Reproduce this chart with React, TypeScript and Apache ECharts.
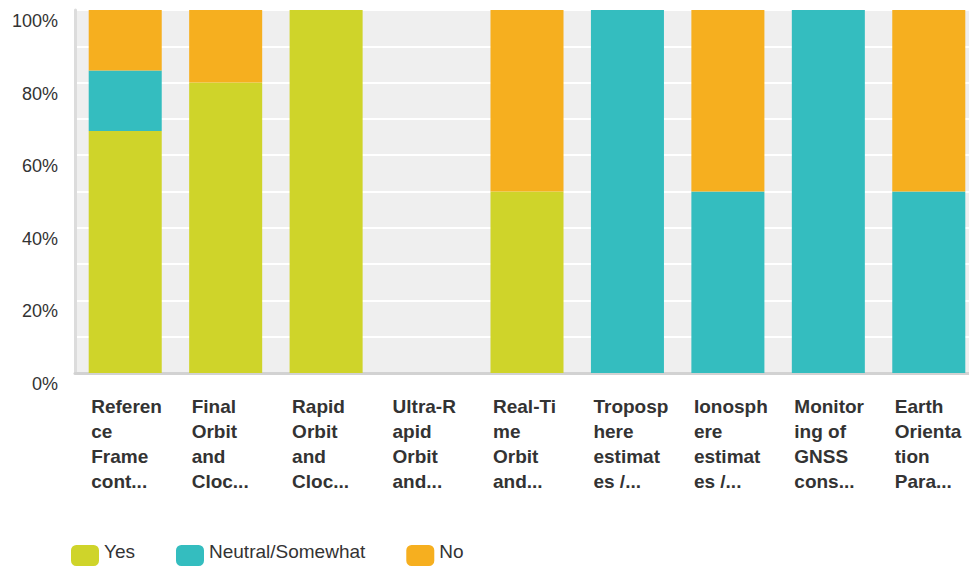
import React, { useEffect, useRef } from "react";
import * as echarts from "echarts";

const categories = [
  "Referen\nce\nFrame\ncont...",
  "Final\nOrbit\nand\nCloc...",
  "Rapid\nOrbit\nand\nCloc...",
  "Ultra-R\napid\nOrbit\nand...",
  "Real-Ti\nme\nOrbit\nand...",
  "Troposp\nhere\nestimat\nes /...",
  "Ionosph\nere\nestimat\nes /...",
  "Monitor\ning of\nGNSS\ncons...",
  "Earth\nOrienta\ntion\nPara...",
];
const yesValues = [66.67, 80, 100, 0, 50, 0, 0, 0, 0];
const neutralValues = [16.67, 0, 0, 0, 0, 100, 50, 100, 50];
const noValues = [16.66, 20, 0, 0, 50, 0, 50, 0, 50];
const seriesNames = ["Yes", "Neutral/Somewhat", "No"];
const colors = ["#cfd42a", "#34bdbf", "#f6af1f"];

export default function App() {
  const ref = useRef<HTMLDivElement>(null);
  useEffect(() => {
    document.body.style.margin = "0";
    document.body.style.overflow = "hidden";
    const chart = echarts.init(ref.current!, null, { renderer: "svg" });
    const data = [yesValues, neutralValues, noValues];
    chart.setOption({
      animation: false,
      color: colors,
      textStyle: { fontFamily: "Liberation Sans, Arial, sans-serif" },
      grid: {
        left: 75,
        right: 0,
        top: 10,
        bottom: 193,
        show: true,
        backgroundColor: "#efefef",
        borderWidth: 0,
      },
      legend: {
        left: 71,
        top: 541.5,
        padding: 0,
        itemWidth: 28,
        itemHeight: 21,
        itemGap: 41,
        icon: "roundRect",
        formatter: "{a|{name}}",
        textStyle: {
          fontSize: 19,
          color: "#333",
          rich: {
            a: { fontSize: 19, color: "#333", padding: [0, 0, 9, 0] },
          },
        },
        data: seriesNames,
      },
      xAxis: {
        type: "category",
        data: categories,
        axisLine: { show: true, lineStyle: { color: "#d2d2d2", width: 3 } },
        axisTick: { show: false },
        axisLabel: {
          interval: 0,
          align: "left",
          verticalAlign: "top",
          margin: 21,
          fontSize: 19,
          fontWeight: "bold",
          color: "#333",
          lineHeight: 25,
          padding: [0, 0, 0, -34],
        },
      },
      yAxis: {
        type: "value",
        min: 0,
        max: 100,
        interval: 10,
        axisLine: { show: true, lineStyle: { color: "#dcdcdc", width: 3 } },
        axisTick: { show: false },
        splitLine: { show: true, lineStyle: { color: "#ffffff", width: 2 } },
        axisLabel: {
          fontSize: 18,
          color: "#333",
          margin: 17,
          verticalAlign: "top",
          padding: [2, 0, 0, 0],
          formatter: (v: number) => (Math.round(v) % 20 === 0 ? v + "%" : ""),
        },
      },
      series: seriesNames.map((name, i) => ({
        name,
        type: "bar",
        stack: "total",
        barWidth: "72.7%",
        data: data[i],
        itemStyle: { color: colors[i] },
      })),
    });
    return () => chart.dispose();
  }, []);
  return <div ref={ref} style={{ width: 979, height: 566 }} />;
}
